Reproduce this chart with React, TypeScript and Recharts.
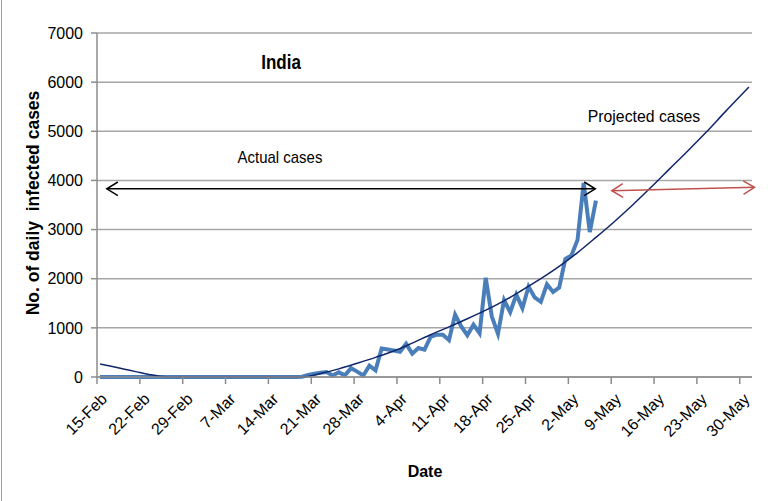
import { LineChart, Line, XAxis, YAxis, CartesianGrid, ReferenceLine } from 'recharts'

// days counted from 15-Feb (day 0) to 31-May (day 106)
const tickDays = [0, 7, 14, 21, 28, 35, 42, 49, 56, 63, 70, 77, 84, 91, 98, 105]
const tickLabels = ['15-Feb', '22-Feb', '29-Feb', '7-Mar', '14-Mar', '21-Mar', '28-Mar', '4-Apr', '11-Apr', '18-Apr', '25-Apr', '2-May', '9-May', '16-May', '23-May', '30-May']
const yTicks = [0, 1000, 2000, 3000, 4000, 5000, 6000, 7000]

// daily infected cases, 15-Feb .. 6-May
const actualCases = [
  0, 0, 0, 0, 0, 0, 0, 0, 0, 0,
  0, 0, 0, 0, 0, 0, 0, 0, 0, 0,
  0, 0, 0, 0, 0, 0, 0, 0, 0, 0,
  0, 0, 0, 5, 40, 67, 85, 100, 30, 95,
  35, 180, 110, 30, 230, 135, 580, 560, 540, 515,
  675, 475, 590, 555, 815, 860, 860, 750, 1270, 1030,
  850, 1065, 890, 2020, 1230, 880, 1565, 1320, 1675, 1400,
  1840, 1620, 1530, 1885, 1730, 1820, 2400, 2475, 2790, 3950,
  2950, 3590
]

// fitted / projected curve, read at a few days
const trendDays = [0, 2, 4, 6, 8, 10, 11, 33, 36, 39, 42, 45, 48, 51, 54, 57, 60, 63, 66, 69, 72, 75, 78, 81, 84, 87, 90, 93, 96, 99, 102, 106]
const trendValues = [265, 212, 158, 104, 52, 10, 0, 0, 70, 165, 280, 400, 530, 690, 860, 1020, 1185, 1360, 1550, 1770, 2000, 2250, 2530, 2840, 3160, 3500, 3860, 4230, 4600, 4980, 5380, 5900]

const totalDays = 107

const chartData = Array.from({ length: totalDays }, (_, i) => {
  const k = trendDays.indexOf(i)
  return {
    t: i + 0.5, // points sit in the middle of each day
    actual: i < actualCases.length ? actualCases[i] : null,
    trend: k >= 0 ? trendValues[k] : null
  }
})

const FONT = '"Liberation Sans", Arial, sans-serif'

const DateTick = (props: any) => {
  const { x, y, payload } = props
  const idx = tickDays.indexOf(payload.value)
  return (
    <g transform={`translate(${x + 11},${y + 14}) rotate(-45)`}>
      <text x={0} y={0} textAnchor="end" fill="#000" fontSize={16} fontFamily={FONT}>
        {tickLabels[idx]}
      </text>
    </g>
  )
}

// double headed arrow for the annotations
const arrowShape = (color: string) => (p: any) => {
  const { x1, y1, x2, y2 } = p
  const ang = Math.atan2(y2 - y1, x2 - x1)
  const len = 13
  const spread = 0.55
  const head = (x: number, y: number, a: number) =>
    `${x + len * Math.cos(a + spread)},${y + len * Math.sin(a + spread)} ${x},${y} ${x + len * Math.cos(a - spread)},${y + len * Math.sin(a - spread)}`
  return (
    <g>
      <line x1={x1} y1={y1} x2={x2} y2={y2} stroke={color} strokeWidth={1.5} />
      <polyline points={head(x1, y1, ang)} fill="none" stroke={color} strokeWidth={1.5} />
      <polyline points={head(x2, y2, ang + Math.PI)} fill="none" stroke={color} strokeWidth={1.5} />
    </g>
  )
}

const label = (text: string, cx: number, cy: number, style: any = {}, extra = '') => (
  <div style={{
    position: 'absolute',
    left: cx,
    top: cy,
    transform: `translate(-50%, -50%) ${extra}`,
    whiteSpace: 'pre',
    fontFamily: FONT,
    color: '#000',
    ...style
  }}>
    {text}
  </div>
)

const App = () => {
  return (
    <div style={{ position: 'absolute', left: 0, top: 0, width: 775, height: 501, background: '#fff' }}>
      <div style={{ position: 'absolute', left: 1, top: 0, width: 1, height: 501, background: '#a0a0a0' }} />
      <LineChart
        width={775}
        height={501}
        data={chartData}
        margin={{ top: 33, right: 23, left: 37, bottom: 0 }}
      >
        <CartesianGrid vertical={false} stroke="#a6a6a6" strokeWidth={1.5} />
        <XAxis
          type="number"
          dataKey="t"
          domain={[0, totalDays]}
          ticks={tickDays}
          interval={0}
          height={124}
          tick={<DateTick />}
          tickSize={7}
          axisLine={{ stroke: '#8c8c8c', strokeWidth: 1.5 }}
          tickLine={{ stroke: '#8c8c8c', strokeWidth: 1.5 }}
        />
        <YAxis
          type="number"
          domain={[0, 7000]}
          ticks={yTicks}
          width={60}
          tickSize={6}
          tickMargin={8}
          axisLine={{ stroke: '#8c8c8c', strokeWidth: 1.5 }}
          tickLine={{ stroke: '#8c8c8c', strokeWidth: 1.5 }}
          tick={{ fontSize: 16, fill: '#000', fontFamily: FONT }}
        />
        <Line
          type="linear"
          dataKey="actual"
          stroke="#4a7ebb"
          strokeWidth={4}
          dot={false}
          isAnimationActive={false}
        />
        <Line
          type="monotone"
          dataKey="trend"
          stroke="#10266b"
          strokeWidth={1.5}
          dot={false}
          connectNulls
          isAnimationActive={false}
        />
        <ReferenceLine
          segment={[{ x: 1.6, y: 3830 }, { x: 81.4, y: 3830 }]}
          ifOverflow="visible"
          shape={arrowShape('#000')}
        />
        <ReferenceLine
          segment={[{ x: 84.1, y: 3790 }, { x: 107.4, y: 3860 }]}
          ifOverflow="visible"
          shape={arrowShape('#c0504d')}
        />
      </LineChart>
      {label('India', 281, 62, { fontSize: 20, fontWeight: 'bold' }, 'scaleX(0.85)')}
      {label('Actual cases', 280, 158, { fontSize: 17 }, 'scaleX(0.88)')}
      {label('Projected cases', 644, 117, { fontSize: 17 }, 'scaleX(0.93)')}
      {label('Date', 425, 472, { fontSize: 16, fontWeight: 'bold' })}
      {label('No. of daily  infected cases', 33, 203, { fontSize: 17.5, fontWeight: 'bold' }, 'rotate(-90deg)')}
    </div>
  )
}

export default App
